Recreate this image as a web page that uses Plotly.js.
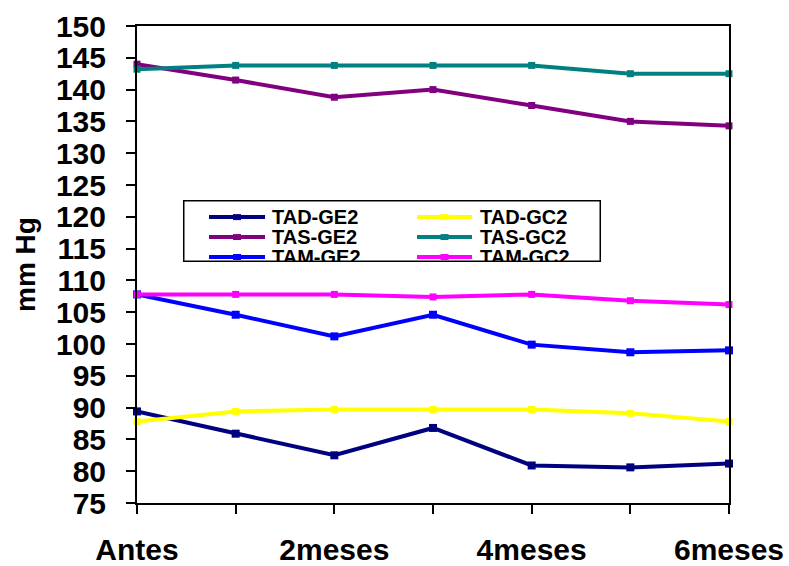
<!DOCTYPE html>
<html>
<head>
<meta charset="utf-8">
<script src="https://cdn.plot.ly/plotly-3.0.1.min.js"></script>
<style>
  html, body { margin: 0; padding: 0; background: #fff; }
  #chart { width: 789px; height: 566px; }
</style>
</head>
<body>
<div id="chart"></div>
<script>
// Time points of the follow-up (only the even ones carry a label)
const periods = ['Antes', '1mes', '2meses', '3meses', '4meses', '5meses', '6meses'];
const periodLabels = ['Antes', '', '2meses', '', '4meses', '', '6meses'];

// Blood pressure, mm Hg
const tadGE2 = [89.4, 85.9, 82.5, 86.8, 80.9, 80.6, 81.2];
const tadGC2 = [87.8, 89.4, 89.7, 89.7, 89.7, 89.1, 87.8];
const tasGE2 = [144.0, 141.5, 138.8, 140.0, 137.5, 135.0, 134.3];
const tasGC2 = [143.2, 143.8, 143.8, 143.8, 143.8, 142.5, 142.5];
const tamGE2 = [107.8, 104.6, 101.2, 104.6, 99.9, 98.7, 99.0];
const tamGC2 = [107.8, 107.8, 107.8, 107.4, 107.8, 106.8, 106.2];

const seriesNames = ['TAD-GE2', 'TAD-GC2', 'TAS-GE2', 'TAS-GC2', 'TAM-GE2', 'TAM-GC2'];
const seriesValues = [tadGE2, tadGC2, tasGE2, tasGC2, tamGE2, tamGC2];
const seriesColors = ['#000080', '#FFFF00', '#800080', '#008080', '#0000FF', '#FF00FF'];
const markerSizes = [8, 7, 7, 7, 8, 7];

const W = 789, H = 566;
const M = { l: 137, r: 60, t: 25.5, b: 62.5 };
const plotW = W - M.l - M.r, plotH = H - M.t - M.b;
// pixel -> paper helpers for the hand-built legend
const px = x => (x - M.l) / plotW;
const py = y => (H - M.b - y) / plotH;

const traces = seriesNames.map((name, i) => ({
  type: 'scatter',
  mode: 'lines+markers',
  name: name,
  x: periods,
  y: seriesValues[i],
  line: { color: seriesColors[i], width: 4 },
  marker: { symbol: 'square', size: markerSizes[i], color: seriesColors[i] },
  cliponaxis: false,
  showlegend: false
}));

// Legend: two columns, three rows, box cut through the third row
const box = { x0: 183, x1: 600, y0: 200, y1: 261 };
const rowsY = [217, 237, 257];
const cols = [{ l0: 209, l1: 265, t: 270 }, { l0: 417, l1: 472, t: 478 }];

const shapes = [];
const annotations = [];
seriesNames.forEach((name, i) => {
  const row = Math.floor(i / 2), col = cols[i % 2];
  const y = rowsY[row];
  shapes.push({
    type: 'line', xref: 'paper', yref: 'paper',
    x0: px(col.l0), x1: px(col.l1), y0: py(y), y1: py(y),
    line: { color: seriesColors[i], width: 4 }
  });
  const mx = (col.l0 + col.l1) / 2;
  shapes.push({
    type: 'rect', xref: 'paper', yref: 'paper',
    x0: px(mx - 4), x1: px(mx + 4), y0: py(y + 3), y1: py(y - 3),
    fillcolor: seriesColors[i], line: { width: 0 }
  });
  annotations.push({
    xref: 'paper', yref: 'paper', x: px(col.t), y: py(y),
    xanchor: 'left', yanchor: 'middle', showarrow: false,
    text: name,
    font: { family: 'Liberation Sans, Arial, sans-serif', size: 20, color: '#000', weight: 'bold' }
  });
});
// white strip that trims the third row below the frame
annotations.push({
  xref: 'paper', yref: 'paper', x: px(box.x0 - 2), y: py(box.y1 + 0.5),
  xanchor: 'left', yanchor: 'top', showarrow: false,
  text: ' ', width: box.x1 - box.x0 + 4, height: 14,
  bgcolor: '#ffffff', borderwidth: 0, borderpad: 0
});
// legend frame
annotations.push({
  xref: 'paper', yref: 'paper', x: px(box.x0), y: py(box.y0),
  xanchor: 'left', yanchor: 'top', showarrow: false,
  text: ' ', width: box.x1 - box.x0 - 2, height: box.y1 - box.y0 - 2,
  bgcolor: 'rgba(0,0,0,0)', bordercolor: '#000', borderwidth: 1.5, borderpad: 0
});

const tickFont = { family: 'Liberation Sans, Arial, sans-serif', size: 30, color: '#000', weight: 'bold' };

const layout = {
  width: W, height: H,
  margin: M,
  paper_bgcolor: '#fff',
  plot_bgcolor: '#fff',
  showlegend: false,
  xaxis: {
    type: 'category',
    range: [0, periods.length - 1],
    tickmode: 'array',
    tickvals: periods,
    ticktext: periodLabels,
    ticks: 'outside', ticklen: 9, tickwidth: 2, tickcolor: '#000',
    showline: true, linecolor: '#000', linewidth: 2, mirror: true,
    showgrid: false, zeroline: false,
    ticklabelstandoff: 10,
    tickfont: { family: 'Liberation Sans, Arial, sans-serif', size: 30, color: '#000', weight: 'bold' }
  },
  yaxis: {
    range: [75, 150],
    dtick: 5, tick0: 75,
    ticks: 'outside', ticklen: 9, tickwidth: 2, tickcolor: '#000',
    showline: true, linecolor: '#000', linewidth: 2, mirror: true,
    showgrid: false, zeroline: false,
    ticklabelstandoff: 14,
    tickfont: tickFont,
    title: { text: 'mm Hg', standoff: 12, font: { family: 'Liberation Sans, Arial, sans-serif', size: 28, color: '#000', weight: 'bold' } }
  },
  shapes: shapes,
  annotations: annotations
};

Plotly.newPlot('chart', traces, layout, { displayModeBar: false, staticPlot: true });
</script>
</body>
</html>
